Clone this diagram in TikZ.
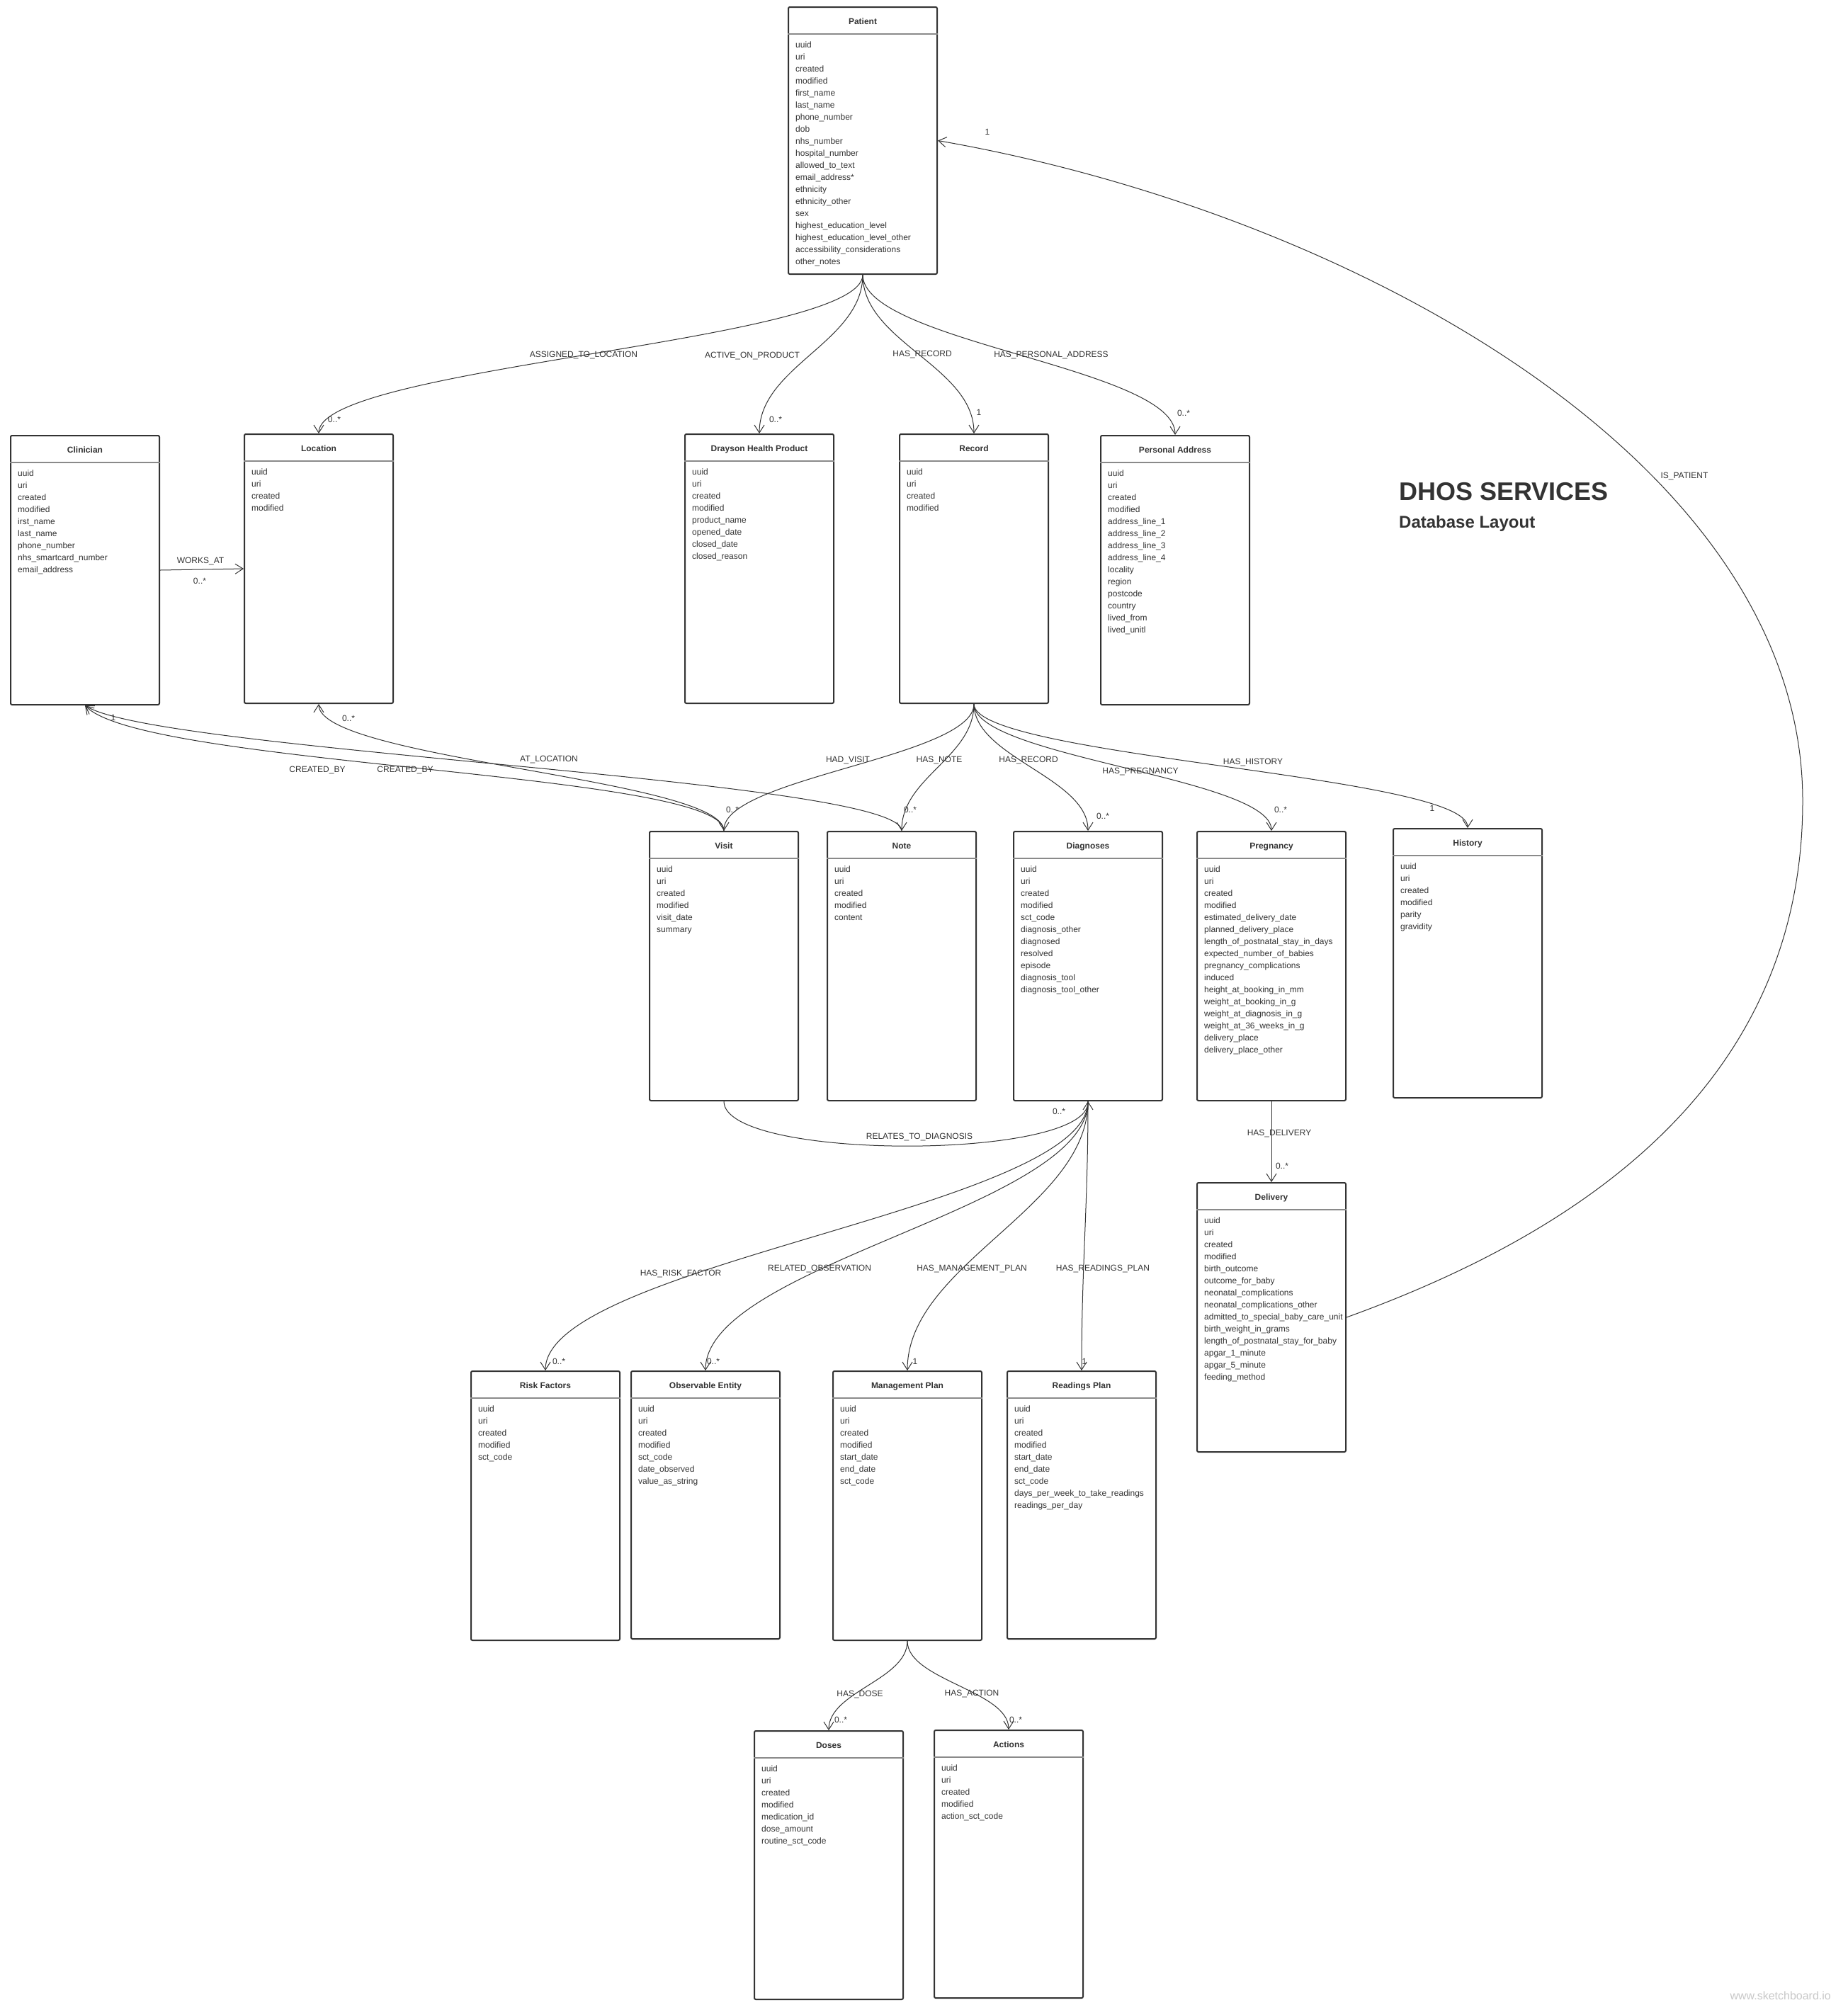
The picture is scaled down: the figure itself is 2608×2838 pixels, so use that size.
\documentclass[tikz,border=0pt]{standalone}
\usepackage{fontspec}
\setmainfont{Liberation Sans}
\usetikzlibrary{arrows.meta}
\definecolor{ink}{HTML}{333333}
\definecolor{sepgray}{HTML}{8A8A8A}
\definecolor{wmgray}{HTML}{C8C8C8}
\tikzset{
  ubox/.style={draw=ink, line width=2pt, rounded corners=2pt, minimum width=210pt, anchor=north west, inner sep=0pt, fill=white},
  usep/.style={draw=sepgray, line width=2pt},
  utitle/.style={font=\bfseries\fontsize{12}{14}\selectfont, text=ink, anchor=base, inner sep=0pt},
  uattr/.style={font=\fontsize{12}{14}\selectfont, text=ink, anchor=base west, inner sep=0pt},
  lbl/.style={font=\fontsize{12}{14}\selectfont, text=ink, inner sep=0pt, anchor=center},
  conn/.style={draw=ink, line width=1pt, -{Straight Barb[length=11pt,width=14pt]}},
}
\newcommand\umlbox[6]{%
  \node[ubox, minimum height=#4pt] (#1) at (#2,#3) {};
  \draw[usep] ([yshift=-39pt]#1.north west) -- ([yshift=-39pt]#1.north east);
  \node[utitle] (#1-t) at ([yshift=-25pt]#1.north) {#5};
  \foreach \a [count=\i from 0] in {#6} {
    \node[uattr] (#1-a\i) at ([xshift=11pt,yshift={-58pt-\i*17pt}]#1.north west) {\a};
  }
}
\begin{document}
\begin{tikzpicture}[x=1pt,y=-1pt]
\useasboundingbox[fill=white] (0,0) rectangle (2608,2838);

% ---------- boxes ----------
\umlbox{patient}{1112}{9}{377}{Patient}{uuid,uri,created,modified,first\_name,last\_name,phone\_number,dob,nhs\_number,hospital\_number,allowed\_to\_text,email\_address*,ethnicity,ethnicity\_other,sex,highest\_education\_level,highest\_education\_level\_other,accessibility\_considerations,other\_notes}
\umlbox{clinician}{14}{614}{380}{Clinician}{uuid,uri,created,modified,irst\_name,last\_name,phone\_number,nhs\_smartcard\_number,email\_address}
\umlbox{location}{344}{612}{380}{Location}{uuid,uri,created,modified}
\umlbox{drayson}{966}{612}{380}{Drayson Health Product}{uuid,uri,created,modified,product\_name,opened\_date,closed\_date,closed\_reason}
\umlbox{record}{1269}{612}{380}{Record}{uuid,uri,created,modified}
\umlbox{personal}{1553}{614}{380}{Personal Address}{uuid,uri,created,modified,address\_line\_1,address\_line\_2,address\_line\_3,address\_line\_4,locality,region,postcode,country,lived\_from,lived\_unitl}
\umlbox{visit}{916}{1173}{380}{Visit}{uuid,uri,created,modified,visit\_date,summary}
\umlbox{note}{1167}{1173}{380}{Note}{uuid,uri,created,modified,content}
\umlbox{diagnoses}{1430}{1173}{380}{Diagnoses}{uuid,uri,created,modified,sct\_code,diagnosis\_other,diagnosed,resolved,episode,diagnosis\_tool,diagnosis\_tool\_other}
\umlbox{pregnancy}{1689}{1173}{380}{Pregnancy}{uuid,uri,created,modified,estimated\_delivery\_date,planned\_delivery\_place,length\_of\_postnatal\_stay\_in\_days,expected\_number\_of\_babies,pregnancy\_complications,induced,height\_at\_booking\_in\_mm,weight\_at\_booking\_in\_g,weight\_at\_diagnosis\_in\_g,weight\_at\_36\_weeks\_in\_g,delivery\_place,delivery\_place\_other}
\umlbox{history}{1966}{1169}{380}{History}{uuid,uri,created,modified,parity,gravidity}
\umlbox{delivery}{1689}{1669}{380}{Delivery}{uuid,uri,created,modified,birth\_outcome,outcome\_for\_baby,neonatal\_complications,neonatal\_complications\_other,admitted\_to\_special\_baby\_care\_unit,birth\_weight\_in\_grams,length\_of\_postnatal\_stay\_for\_baby,apgar\_1\_minute,apgar\_5\_minute,feeding\_method}
\umlbox{risk}{664}{1935}{380}{Risk Factors}{uuid,uri,created,modified,sct\_code}
\umlbox{observable}{890}{1935}{378}{Observable Entity}{uuid,uri,created,modified,sct\_code,date\_observed,value\_as\_string}
\umlbox{management}{1175}{1935}{380}{Management Plan}{uuid,uri,created,modified,start\_date,end\_date,sct\_code}
\umlbox{readings}{1421}{1935}{378}{Readings Plan}{uuid,uri,created,modified,start\_date,end\_date,sct\_code,days\_per\_week\_to\_take\_readings,readings\_per\_day}
\umlbox{doses}{1064}{2443}{379}{Doses}{uuid,uri,created,modified,medication\_id,dose\_amount,routine\_sct\_code}
\umlbox{actions}{1318}{2442}{378}{Actions}{uuid,uri,created,modified,action\_sct\_code}

% ---------- title ----------
\node[font=\bfseries\fontsize{36}{40}\selectfont, text=ink, anchor=base west, inner sep=0pt] (title) at (1975,706) {DHOS SERVICES};
\node[font=\bfseries\fontsize{24}{28}\selectfont, text=ink, anchor=base west, inner sep=0pt] (subtitle) at (1975,745) {Database Layout};
\node[font=\fontsize{16}{18}\selectfont, text=wmgray, anchor=base east, inner sep=0pt] (wm) at (2585,2823) {www.sketchboard.io};

% ---------- connectors from Patient ----------
\draw[conn] (patient.south) .. controls +(0,95) and +(0,-95) .. (location.north);
\draw[conn] (patient.south) .. controls +(0,95) and +(0,-95) .. (drayson.north);
\draw[conn] (patient.south) .. controls +(0,95) and +(0,-95) .. (record.north);
\draw[conn] (patient.south) .. controls +(0,95) and +(0,-95) .. (personal.north);
\node[lbl] (l1) at (824,501) {ASSIGNED\_TO\_LOCATION};
\node[lbl] (m1) at (472,592) {0..*};
\node[lbl] (l2) at (1062,502) {ACTIVE\_ON\_PRODUCT};
\node[lbl] (m2) at (1095,592) {0..*};
\node[lbl] (l3) at (1302,500) {HAS\_RECORD};
\node[lbl] (m3) at (1382,582) {1};
\node[lbl] (l4) at (1484,501) {HAS\_PERSONAL\_ADDRESS};
\node[lbl] (m4) at (1671,583) {0..*};

% ---------- IS_PATIENT ----------
\coordinate (isp) at (2545,1131);
\draw[conn] (delivery.east) .. controls +(301,-109) and +(0,419) .. (isp) .. controls +(0,-481) and +(580,101) .. (patient.east);
\node[lbl] (l5) at (2378,672) {IS\_PATIENT};
\node[lbl] (m5) at (1394,186) {1};

% ---------- WORKS_AT ----------
\draw[conn] (clinician.east) -- (location.west);
\node[lbl] (l6) at (283,792) {WORKS\_AT};
\node[lbl] (m6) at (282,820) {0..*};

% ---------- Visit / Note to Clinician, Location ----------
\draw[conn] (visit.north) .. controls +(0,-83) and +(80,86) .. (clinician.south);
\draw[conn] (note.north) .. controls +(0,-73) and +(100,66) .. (clinician.south);
\draw[conn] (visit.north) .. controls +(0,-73) and +(0,78) .. (location.south);
\node[lbl] (l7) at (448,1087) {CREATED\_BY};
\node[lbl] (l8) at (572,1087) {CREATED\_BY};
\node[lbl] (m7) at (160,1013) {1};
\node[lbl] (l9) at (775,1072) {AT\_LOCATION};
\node[lbl] (m9) at (492,1014) {0..*};

% ---------- Record children ----------
\draw[conn] (record.south) .. controls +(0,75) and +(0,-75) .. (visit.north);
\draw[conn] (record.south) .. controls +(0,75) and +(0,-75) .. (note.north);
\draw[conn] (record.south) .. controls +(0,75) and +(0,-75) .. (diagnoses.north);
\draw[conn] (record.south) .. controls +(0,75) and +(0,-75) .. (pregnancy.north);
\draw[conn] (record.south) .. controls +(0,75) and +(0,-75) .. (history.north);
\node[lbl] (l10) at (1197,1073) {HAD\_VISIT};
\node[lbl] (m10) at (1034,1143) {0..*};
\node[lbl] (l11) at (1326,1073) {HAS\_NOTE};
\node[lbl] (m11) at (1285,1143) {0..*};
\node[lbl] (l12) at (1452,1073) {HAS\_RECORD};
\node[lbl] (m12) at (1557,1152) {0..*};
\node[lbl] (l13) at (1610,1089) {HAS\_PREGNANCY};
\node[lbl] (m13) at (1808,1143) {0..*};
\node[lbl] (l14) at (1769,1076) {HAS\_HISTORY};
\node[lbl] (m14) at (2022,1141) {1};

% ---------- Visit -> Diagnoses ----------
\draw[conn] (visit.south) .. controls +(0,84) and +(0,84) .. (diagnoses.south);
\node[lbl] (l15) at (1298,1605) {RELATES\_TO\_DIAGNOSIS};
\node[lbl] (m15) at (1495,1569) {0..*};

% ---------- Pregnancy -> Delivery ----------
\draw[conn] (pregnancy.south) -- (delivery.north);
\node[lbl] (l16) at (1806,1600) {HAS\_DELIVERY};
\node[lbl] (m16) at (1810,1646) {0..*};

% ---------- Diagnoses children ----------
\draw[conn] (diagnoses.south) .. controls +(0,150) and +(0,-150) .. (risk.north);
\draw[conn] (diagnoses.south) .. controls +(0,150) and +(0,-150) .. (observable.north);
\draw[conn] (diagnoses.south) .. controls +(0,150) and +(0,-150) .. (management.north);
\draw[conn] (diagnoses.south) .. controls +(0,150) and +(0,-150) .. (readings.north);
\node[lbl] (l17) at (961,1798) {HAS\_RISK\_FACTOR};
\node[lbl] (m17) at (789,1922) {0..*};
\node[lbl] (l18) at (1157,1791) {RELATED\_OBSERVATION};
\node[lbl] (m18) at (1007,1922) {0..*};
\node[lbl] (l19) at (1372,1791) {HAS\_MANAGEMENT\_PLAN};
\node[lbl] (m19) at (1292,1922) {1};
\node[lbl] (l20) at (1557,1791) {HAS\_READINGS\_PLAN};
\node[lbl] (m20) at (1531,1922) {1};

% ---------- Management children ----------
\draw[conn] (management.south) .. controls +(0,55) and +(0,-55) .. (doses.north);
\draw[conn] (management.south) .. controls +(0,55) and +(0,-55) .. (actions.north);
\node[lbl] (l21) at (1214,2392) {HAS\_DOSE};
\node[lbl] (m21) at (1187,2428) {0..*};
\node[lbl] (l22) at (1372,2391) {HAS\_ACTION};
\node[lbl] (m22) at (1434,2428) {0..*};
\end{tikzpicture}
\end{document}
